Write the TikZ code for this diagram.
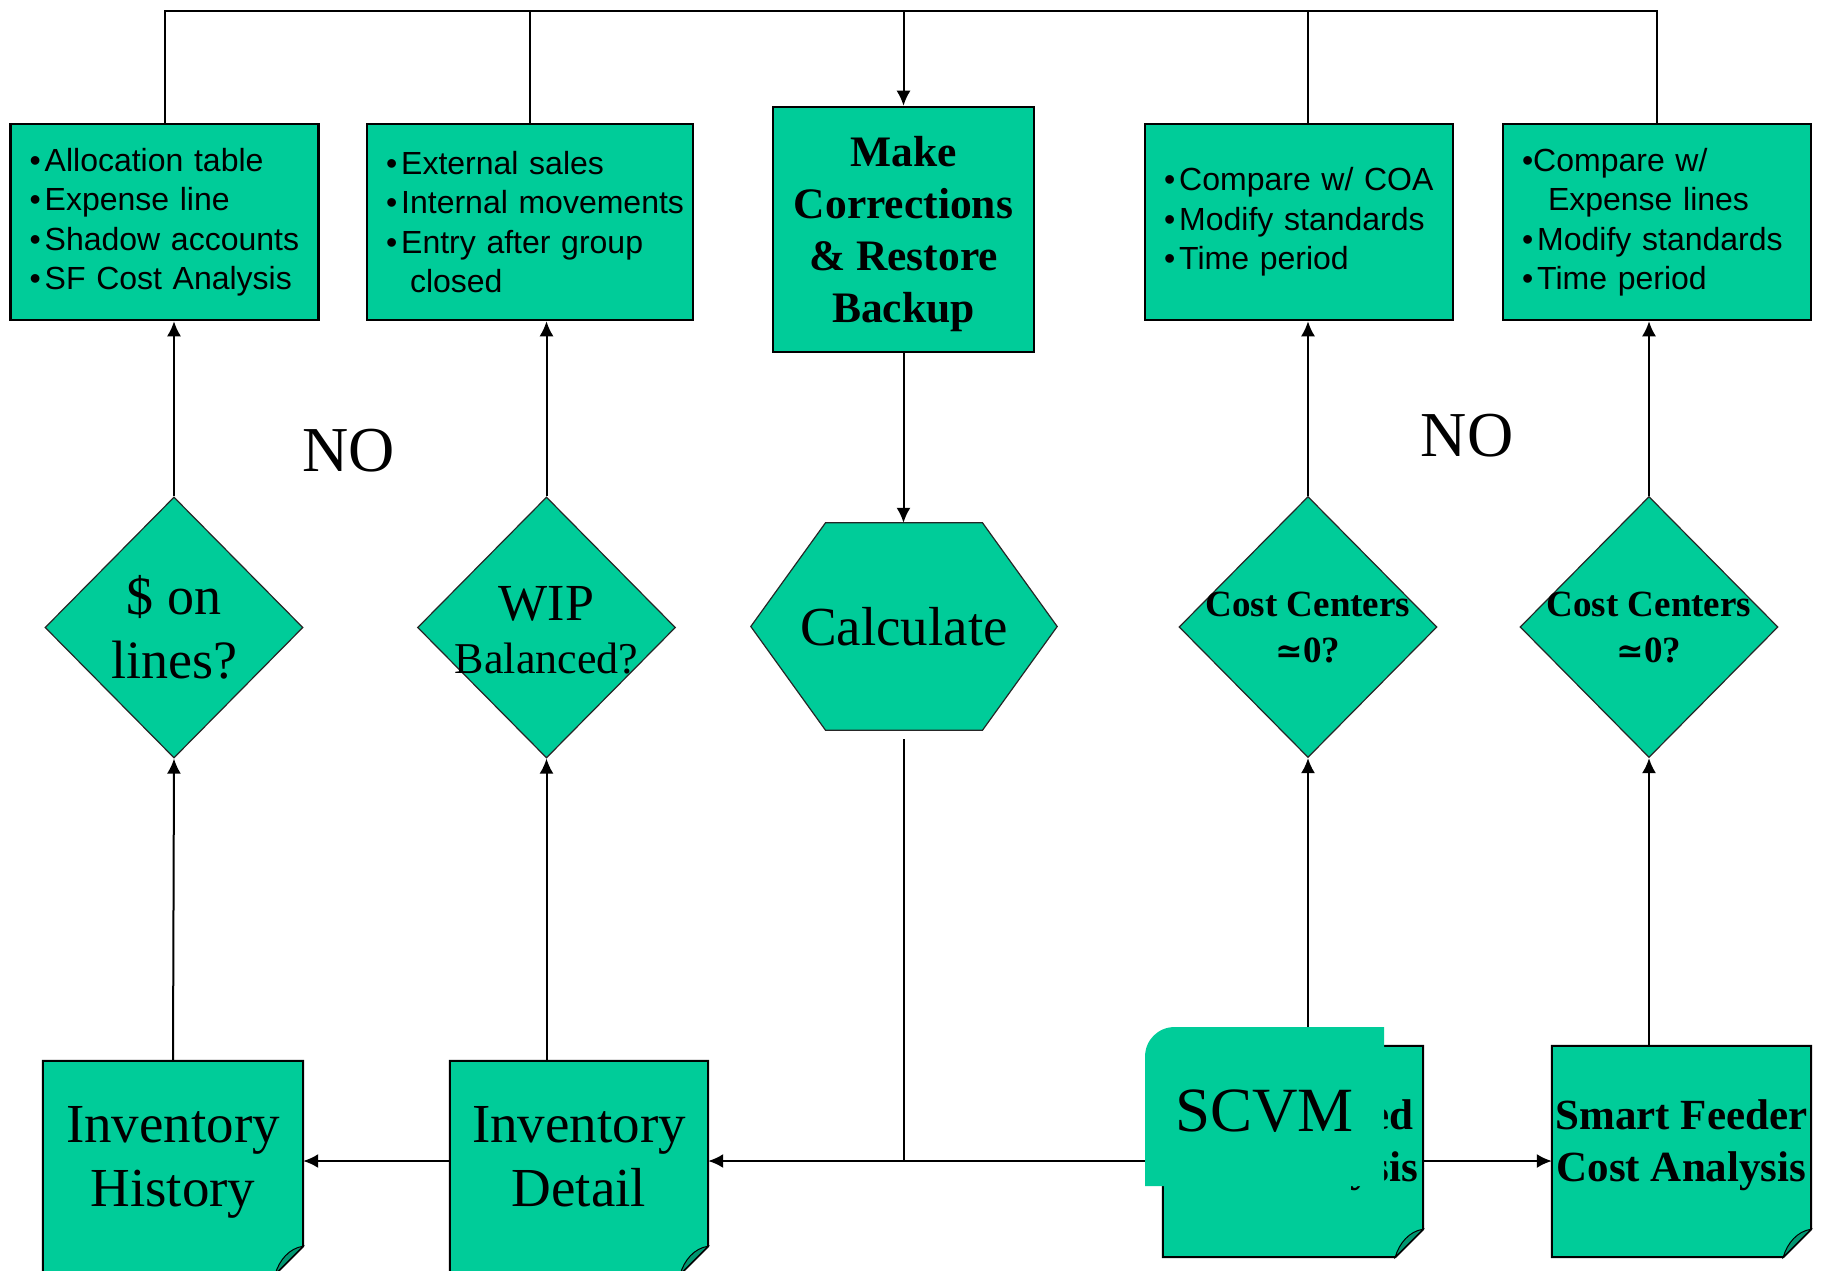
\documentclass[tikz,border=0pt]{standalone}
\usepackage{fontspec}
\setmainfont{Liberation Serif}
\newfontfamily\arialf{Liberation Sans}
\newfontfamily\djsf{DejaVu Serif}
\usetikzlibrary{shapes.geometric,arrows.meta,calc,backgrounds}
\pgfdeclarelayer{front}
\pgfsetlayers{background,main,front}
\definecolor{teal1}{RGB}{0,204,153}
\definecolor{teal2}{RGB}{0,150,112}
\newcommand{\bulx}{\textbullet\hspace{4pt}}
\newcommand{\drawdoc}[1]{%
  \begin{pgfonlayer}{background}
  \draw[docline] (#1.north west) -- (#1.north east) -- ($(#1.south east)+(0,-6)$) -- ($(#1.south east)+(-28,22)$) -- ($(#1.south west)+(0,22)$) -- cycle;
  \draw[foldline] ($(#1.south east)+(0,-6)$) .. controls ($(#1.south east)+(-14,-4)$) and ($(#1.south east)+(-24,8)$) .. ($(#1.south east)+(-28,22)$) -- cycle;
  \end{pgfonlayer}}
\begin{document}
\begin{tikzpicture}[x=1pt,y=-1pt,
  infobox/.style={draw=black, line width=2.5pt, fill=teal1, inner xsep=0pt, inner ysep=0pt, align=left, minimum height=196pt, font=\arialf\fontsize{32}{39.5}\selectfont},
  mcbox/.style={draw=black, line width=2.5pt, fill=teal1, align=center, minimum width=261pt, minimum height=245pt, inner sep=0pt, text depth=0pt, font=\bfseries\fontsize{43.5}{52}\selectfont},
  dia/.style={diamond, draw=black!85, line width=1.2pt, fill=teal1, minimum width=258pt, minimum height=261pt, inner sep=0pt},
  dtext/.style={align=center, inner sep=0pt},
  hexnode/.style={minimum width=306pt, minimum height=207pt, inner sep=0pt, font=\fontsize{55}{60}\selectfont},
  hexshape/.style={draw=black!85, line width=1.2pt, fill=teal1},
  docnode/.style={inner sep=0pt, align=center, text depth=0pt},
  docline/.style={draw=black, line width=2pt, fill=teal1},
  foldline/.style={draw=black, line width=1pt, fill=teal2},
  line/.style={draw=black, line width=2pt},
  arr/.style={line, -{Latex[length=15pt,width=14pt]}},
  nolabel/.style={font=\fontsize{64}{64}\selectfont, inner sep=0pt}
]
\useasboundingbox (0,0) rectangle (1823,1271);
\begin{pgfonlayer}{background}
\fill[white] (0,0) rectangle (1823,1271);
\end{pgfonlayer}

% top boxes
\node[infobox, minimum width=308pt, text width=270pt] (b1) at (164.5,222)
  {\mbox{\bulx Allocation table}\\ \mbox{\bulx Expense line}\\ \mbox{\bulx Shadow accounts}\\ \mbox{\bulx SF Cost Analysis}};
\node[infobox, minimum width=326pt, text width=288pt] (b2) at (530,222)
  {\mbox{\bulx External sales}\\ \mbox{\bulx Internal movements}\\ \mbox{\bulx Entry after group}\\ \hspace*{24pt}closed};
\node[mcbox] (mc) at (903.5,229.5) {Make\\Corrections\\\&~Restore\\Backup};
\node[infobox, minimum width=308pt, text width=270pt] (b4) at (1299,222)
  {\mbox{\bulx Compare w/ COA}\\ \mbox{\bulx Modify standards}\\ \mbox{\bulx Time period}};
\node[infobox, minimum width=308pt, text width=270pt] (b5) at (1657,222)
  {\textbullet Compare w/\\ \hspace*{26pt}Expense lines\\ \mbox{\bulx Modify standards}\\ \mbox{\bulx Time period}};

% decisions
\node[dia] (d1) at (174,627.5) {};
\node[dtext, font=\fontsize{54}{64}\selectfont] (d1t) at (174,627) {\$ on\\lines?};
\node[dia] (d2) at (546.5,627.5) {};
\node[dtext, font=\fontsize{44}{53}\selectfont] (d2t) at (546.5,630) {{\fontsize{52}{53}\selectfont WIP}\\Balanced?};
\node[dia] (d3) at (1308,627) {};
\node[dtext, font=\bfseries\fontsize{37}{46}\selectfont] (d3t) at (1308,628) {Cost Centers\\{\djsf\fontsize{33}{46}\selectfont\bfseries ≃}0?};
\node[dia] (d4) at (1649,627) {};
\node[dtext, font=\bfseries\fontsize{37}{46}\selectfont] (d4t) at (1649,628) {Cost Centers\\{\djsf\fontsize{33}{46}\selectfont\bfseries ≃}0?};

% calculate hexagon
\node[hexnode] (calc) at (904,626.5) {Calculate};
\begin{pgfonlayer}{background}
\draw[hexshape] (calc.west) -- ($(calc.north)+(-78.5,0)$) -- ($(calc.north)+(78.5,0)$) -- (calc.east) -- ($(calc.south)+(78.5,0)$) -- ($(calc.south)+(-78.5,0)$) -- cycle;
\end{pgfonlayer}

% documents
\node[docnode, minimum width=260pt, minimum height=191pt, font=\fontsize{55}{64}\selectfont] (ih) at (173,1156.5) {Inventory\\History};
\drawdoc{ih}
\node[docnode, minimum width=258pt, minimum height=191pt, font=\fontsize{55}{64}\selectfont] (id) at (579,1156.5) {Inventory\\Detail};
\drawdoc{id}
\node[docnode, minimum width=260pt, minimum height=189pt, font=\bfseries\fontsize{43}{52}\selectfont] (hd) at (1293,1140.5) {Consolidated\\Cost Analysis};
\drawdoc{hd}
\node[docnode, minimum width=259pt, minimum height=189pt, font=\bfseries\fontsize{43}{52}\selectfont] (sf) at (1681.5,1140.5) {Smart Feeder\\Cost Analysis};
\drawdoc{sf}

% NO labels
\node[nolabel] (no1) at (349,451) {NO};
\node[nolabel] (no2) at (1467,436) {NO};

% connectors
\coordinate (top) at (904,11);
\coordinate (j) at (904,1161);
\draw[line] (b1.north) -- (b1.north |- top) -- (b5.north |- top) -- (b5.north);
\draw[line] (b2.north) -- (b2.north |- top);
\draw[line] (d3.north |- b4.north) -- (d3.north |- top);
\draw[arr] (mc.north |- top) -- (mc.north);
\draw[arr] (mc.south) -- (mc.south |- calc.north);
\draw[line] ($(calc.south)+(0,9)$) -- (calc.south |- j);
\draw[arr] (hd.west |- j) -- (id.east |- j);
\draw[arr] (id.west |- j) -- (ih.east |- j);
\draw[arr] (hd.east |- j) -- (sf.west |- j);
\draw[arr] (ih.north) -- (d1.south);
\draw[arr] (d1.north) -- (d1.north |- b1.south);
\draw[arr] (d2.south |- id.north) -- (d2.south);
\draw[arr] (d2.north) -- (d2.north |- b2.south);
\draw[arr] (d3.south |- hd.north) -- (d3.south);
\draw[arr] (d3.north) -- (d3.north |- b4.south);
\draw[arr] (d4.south |- sf.north) -- (d4.south);
\draw[arr] (d4.north) -- (d4.north |- b5.south);

% SCVM overlay
\begin{pgfonlayer}{front}
\fill[teal1] (1145,1186) -- (1145,1057) .. controls (1145,1040) and (1158,1027) .. (1175,1027) -- (1384,1027) -- (1384,1186) -- cycle;
\node[inner sep=0pt, font=\fontsize{63}{63}\selectfont] (scvm) at (1264.5,1111) {SCVM};
\end{pgfonlayer}
\end{tikzpicture}
\end{document}
